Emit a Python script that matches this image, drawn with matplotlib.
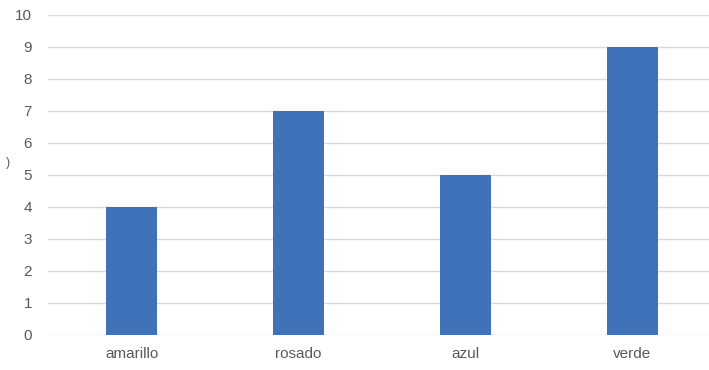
import matplotlib
matplotlib.use("Agg")
import matplotlib.pyplot as plt

categories = ["amarillo", "rosado", "azul", "verde"]
values = [4, 7, 5, 9]
yticks = list(range(0, 11))

fig = plt.figure(figsize=(7.09, 3.70), dpi=100)
# plot area runs past the right edge of the image, as in the reference crop
ax = fig.add_axes([48 / 709, 35 / 370, 668 / 709, 320 / 370])

x = list(range(len(categories)))
ax.bar(x, values, width=0.31, color="#3F72B9", zorder=3)

ax.set_xlim(-0.5, len(categories) - 0.5)
ax.set_ylim(0, 10)
ax.set_yticks(yticks)
ax.set_xticks(x)
ax.set_xticklabels(categories)
ax.grid(axis="y", color="#d9d9d9", linewidth=1.0, zorder=0)
for s in ax.spines.values():
    s.set_visible(False)
ax.tick_params(axis="both", length=0, colors="#595959", labelsize=11)
ax.tick_params(axis="y", pad=11.5)
ax.tick_params(axis="x", pad=9)
for lbl in ax.get_xticklabels() + ax.get_yticklabels():
    lbl.set_family("Liberation Sans")

# cut-off axis title fragment on the far left
fig.text(8 / 709, 1 - 163 / 370, ")", fontsize=9, color="#595959",
         ha="center", va="center", family="Liberation Sans")

fig.savefig("out.png", dpi=100)
